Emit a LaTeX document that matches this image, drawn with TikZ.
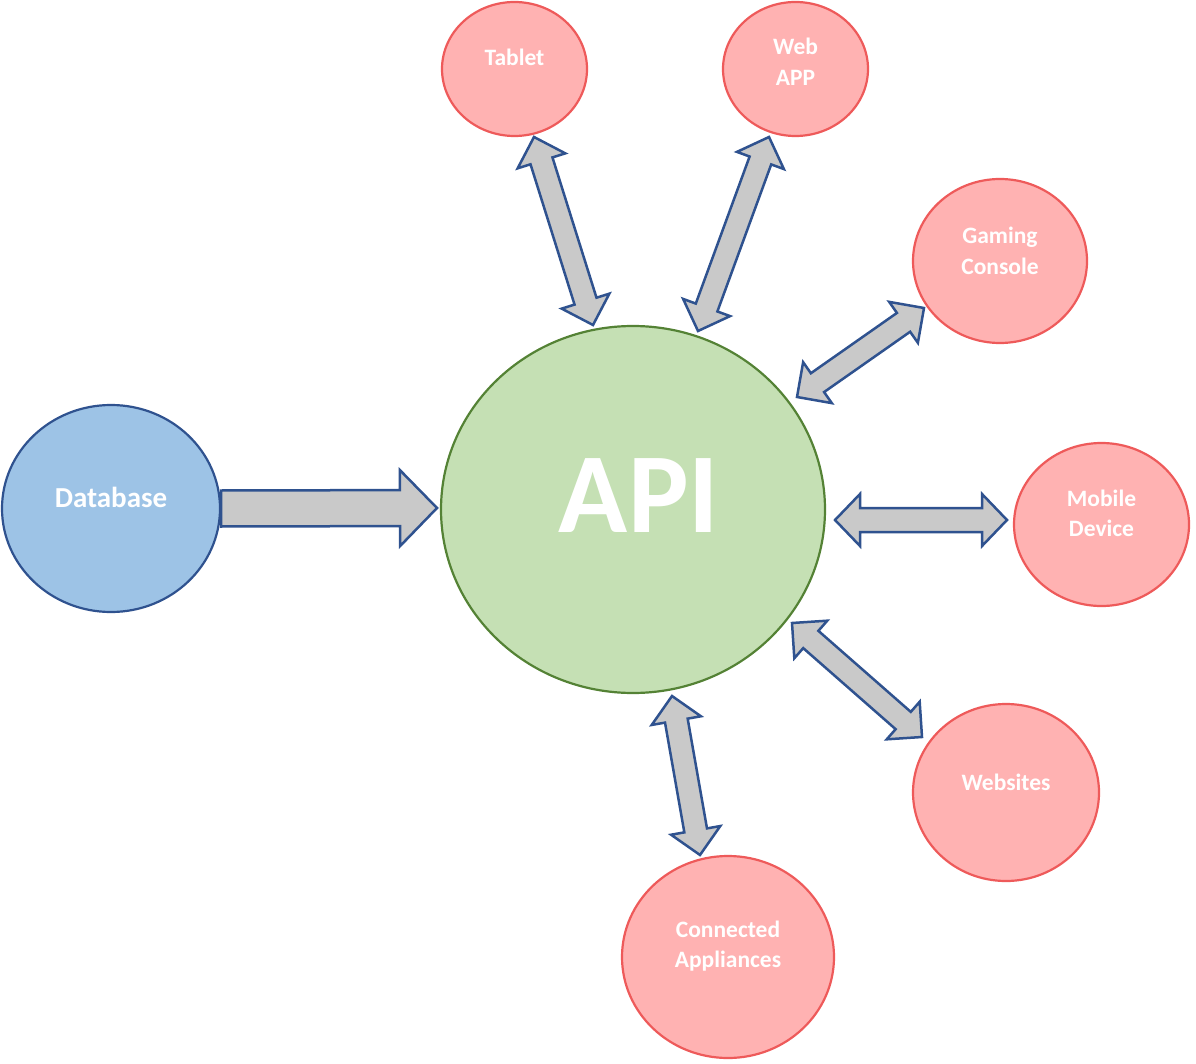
\documentclass[tikz,border=0pt]{standalone}
\usepackage{fontspec}
\setmainfont{Carlito}
\usetikzlibrary{calc,shapes.geometric}
\definecolor{pinkfill}{HTML}{FFB2B2}
\definecolor{pinkline}{HTML}{EE5A5A}
\definecolor{greenfill}{HTML}{C5E0B4}
\definecolor{greenline}{HTML}{548235}
\definecolor{bluefill}{HTML}{9DC3E6}
\definecolor{blueline}{HTML}{2F528F}
\definecolor{arrowfill}{HTML}{C9C9C9}
\tikzset{
  oval/.style={ellipse, inner sep=0pt, line width=2.2pt},
  pinkoval/.style={oval, draw=pinkline, fill=pinkfill},
  lbl/.style={text=white, align=center, font=\fontsize{23.5}{30.5}\selectfont\bfseries},
  arrowbox/.style={draw=blueline, fill=arrowfill, line width=2.5pt, line join=miter},
}
% double block arrow: tips #1 and #2, head length #3, head half width #4, shaft half width #5
\newcommand\dblockarrow[5]{%
  \coordinate (#1h) at ($(#1)!#3!(#2)$);
  \coordinate (#2h) at ($(#2)!#3!(#1)$);
  \draw[arrowbox] (#1)
    -- ($(#1h)!#4!90:(#2)$) -- ($(#1h)!#5!90:(#2)$)
    -- ($(#2h)!#5!-90:(#1)$) -- ($(#2h)!#4!-90:(#1)$)
    -- (#2)
    -- ($(#2h)!#4!90:(#1)$) -- ($(#2h)!#5!90:(#1)$)
    -- ($(#1h)!#5!-90:(#2)$) -- ($(#1h)!#4!-90:(#2)$)
    -- cycle;
}
\begin{document}
\begin{tikzpicture}[x=1pt, y=-1pt]
\useasboundingbox (0,0) rectangle (1196,1064);

% nodes
\node[oval, draw=greenline, fill=greenfill, minimum width=384pt, minimum height=367pt,
  label={[text=white, font=\fontsize{114}{116}\selectfont\bfseries, yshift=14pt, xshift=6pt]center:API}]
  (api) at (633,509.5) {};
\node[oval, draw=blueline, fill=bluefill, minimum width=218pt, minimum height=207pt,
  label={[lbl, font=\fontsize{29}{35}\selectfont\bfseries, yshift=11pt]center:Database}]
  (db) at (111,508.5) {};
\node[pinkoval, minimum width=145pt, minimum height=134pt,
  label={[lbl, yshift=12pt]center:Tablet}] (tab) at (514.5,69) {};
\node[pinkoval, minimum width=145pt, minimum height=134pt,
  label={[lbl, yshift=7pt]center:{Web\\APP}}] (web) at (795.5,69) {};
\node[pinkoval, minimum width=174pt, minimum height=164pt,
  label={[lbl, yshift=10pt]center:{Gaming\\Console}}] (gam) at (1000,261) {};
\node[pinkoval, minimum width=175pt, minimum height=163pt,
  label={[lbl, yshift=11pt]center:{Mobile\\Device}}] (mob) at (1101.5,524.5) {};
\node[pinkoval, minimum width=186pt, minimum height=177pt,
  label={[lbl, yshift=10pt]center:Websites}] (ws) at (1006,792.5) {};
\node[pinkoval, minimum width=212pt, minimum height=202pt,
  label={[lbl, yshift=11pt]center:{Connected\\Appliances}}] (con) at (728,957) {};

% arrow end points
\coordinate (tabA) at (534,137);  \coordinate (tabB) at (593,325);
\coordinate (webA) at (769,137);  \coordinate (webB) at (698,331);
\coordinate (gamA) at (924,308);  \coordinate (gamB) at (797,397);
\coordinate (mobA) at (1007,520); \coordinate (mobB) at (835,520);
\coordinate (wsA)  at (922,737);  \coordinate (wsB)  at (792,623);
\coordinate (conA) at (700,855);  \coordinate (conB) at (672,696);

\dblockarrow{tabA}{tabB}{25pt}{25pt}{11.5pt}
\dblockarrow{webA}{webB}{25pt}{25pt}{11.5pt}
\dblockarrow{gamA}{gamB}{25pt}{25pt}{11.5pt}
\dblockarrow{mobA}{mobB}{25pt}{26pt}{12pt}
\dblockarrow{wsA}{wsB}{25pt}{25pt}{11.5pt}
\dblockarrow{conA}{conB}{25pt}{25pt}{11.5pt}

% single arrow from database to API
\coordinate (dbT) at (db.east);
\coordinate (dbP) at (437,508);
\coordinate (dbh) at ($(dbP)!37pt!(dbT)$);
\draw[arrowbox] ($(dbT)!18pt!90:(dbP)$) -- ($(dbh)!18pt!-90:(dbT)$) -- ($(dbh)!38pt!-90:(dbT)$)
  -- (dbP) -- ($(dbh)!38pt!90:(dbT)$) -- ($(dbh)!18pt!90:(dbT)$) -- ($(dbT)!18pt!-90:(dbP)$) -- cycle;
\end{tikzpicture}
\end{document}
